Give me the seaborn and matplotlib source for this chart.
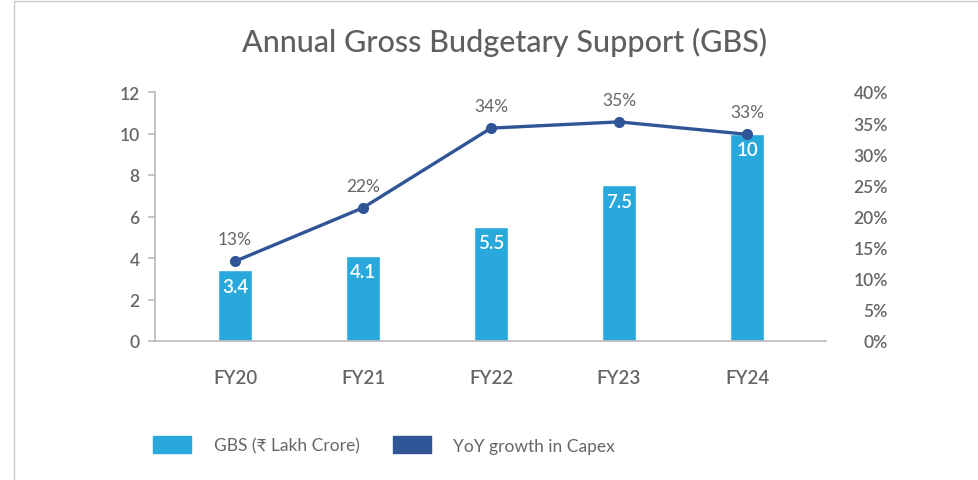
import matplotlib
matplotlib.use("Agg")
import matplotlib.pyplot as plt
import seaborn as sns
import pandas as pd
from matplotlib.patches import Patch
from matplotlib.lines import Line2D

years = ['FY20', 'FY21', 'FY22', 'FY23', 'FY24']
gbs = [3.4, 4.1, 5.5, 7.5, 10]
gbs_labels = ['3.4', '4.1', '5.5', '7.5', '10']
yoy = [12.8, 21.4, 34.2, 35.2, 33.2]
yoy_labels = ['13%', '22%', '34%', '35%', '33%']

bar_color = '#29A8DC'
line_color = '#2F5597'
grey = '#666666'

df = pd.DataFrame({'year': years, 'gbs': gbs, 'yoy': yoy})

sns.set_theme(style='white')
plt.rcParams['font.family'] = ['Lato', 'DejaVu Sans']

fig = plt.figure(figsize=(9.79, 4.81), dpi=100)
ax = fig.add_axes([155 / 979, 1 - 342 / 481, (826 - 155) / 979, (342 - 93) / 481])

sns.barplot(data=df, x='year', y='gbs', color=bar_color, width=0.266,
            saturation=1, ax=ax)
ax.set_xlim(-0.625, 4.617)
ax.set_ylim(0, 12)
ax.set_yticks(range(0, 13, 2))
ax.set_xlabel('')
ax.set_ylabel('')
for s in ['top', 'right']:
    ax.spines[s].set_visible(False)
for s in ['left', 'bottom']:
    ax.spines[s].set_color('#BBBBBB')
    ax.spines[s].set_linewidth(1.2)
ax.tick_params(axis='y', left=True, length=5, width=1.2, color='#BBBBBB',
               labelsize=12.5, labelcolor=grey, pad=6)
ax.tick_params(axis='x', bottom=False, labelsize=13.5, labelcolor=grey, pad=14)
for lbl in ax.get_xticklabels() + ax.get_yticklabels():
    lbl.set_fontweight('semibold')

for i, v in enumerate(gbs):
    ax.text(i, v - 0.35, gbs_labels[i], ha='center', va='top', color='white',
            fontsize=13.5, fontweight='semibold')

ax2 = ax.twinx()
sns.lineplot(x=list(range(len(years))), y=yoy, color=line_color, linewidth=2.4,
             marker='o', markersize=8, markeredgewidth=0, ax=ax2)
ax2.set_ylim(0, 40)
ax2.set_yticks(range(0, 41, 5))
ax2.set_yticklabels([f'{t}%' for t in range(0, 41, 5)])
for s in ['top', 'right', 'left', 'bottom']:
    ax2.spines[s].set_visible(False)
ax2.tick_params(axis='y', right=True, length=0, labelsize=12.5, labelcolor=grey, pad=44.6)
for lbl in ax2.get_yticklabels():
    lbl.set_horizontalalignment('right')
    lbl.set_fontweight('semibold')

for i, v in enumerate(yoy):
    ax2.annotate(yoy_labels[i], (i, v), xytext=(0, 10), textcoords='offset points',
                 ha='center', va='bottom', color=grey, fontsize=12.5)

fig.text(505 / 979, 1 - 42 / 481, 'Annual Gross Budgetary Support (GBS)',
         ha='center', va='center', fontsize=22, fontweight='medium', color='#5f5f5f')

handles = [Patch(color=bar_color, label='GBS (₹ Lakh Crore)'),
           Patch(color=line_color, label='YoY growth in Capex')]
fig.legend(handles=handles, loc='center left', bbox_to_anchor=(153 / 979, 1 - 446 / 481),
           ncol=2, frameon=False, fontsize=12.5, handlelength=2.2, handleheight=1.1,
           handletextpad=1.3, columnspacing=1.9, borderpad=0, borderaxespad=0,
           labelcolor=grey)

# light frame lines at top and left
fig.add_artist(Line2D([14 / 979, 1], [1 - 2 / 481, 1 - 2 / 481], color='#C8C8C8', lw=1))
fig.add_artist(Line2D([14 / 979, 14 / 979], [0, 1 - 2 / 481], color='#C8C8C8', lw=1))

fig.savefig('out.png', dpi=100)
